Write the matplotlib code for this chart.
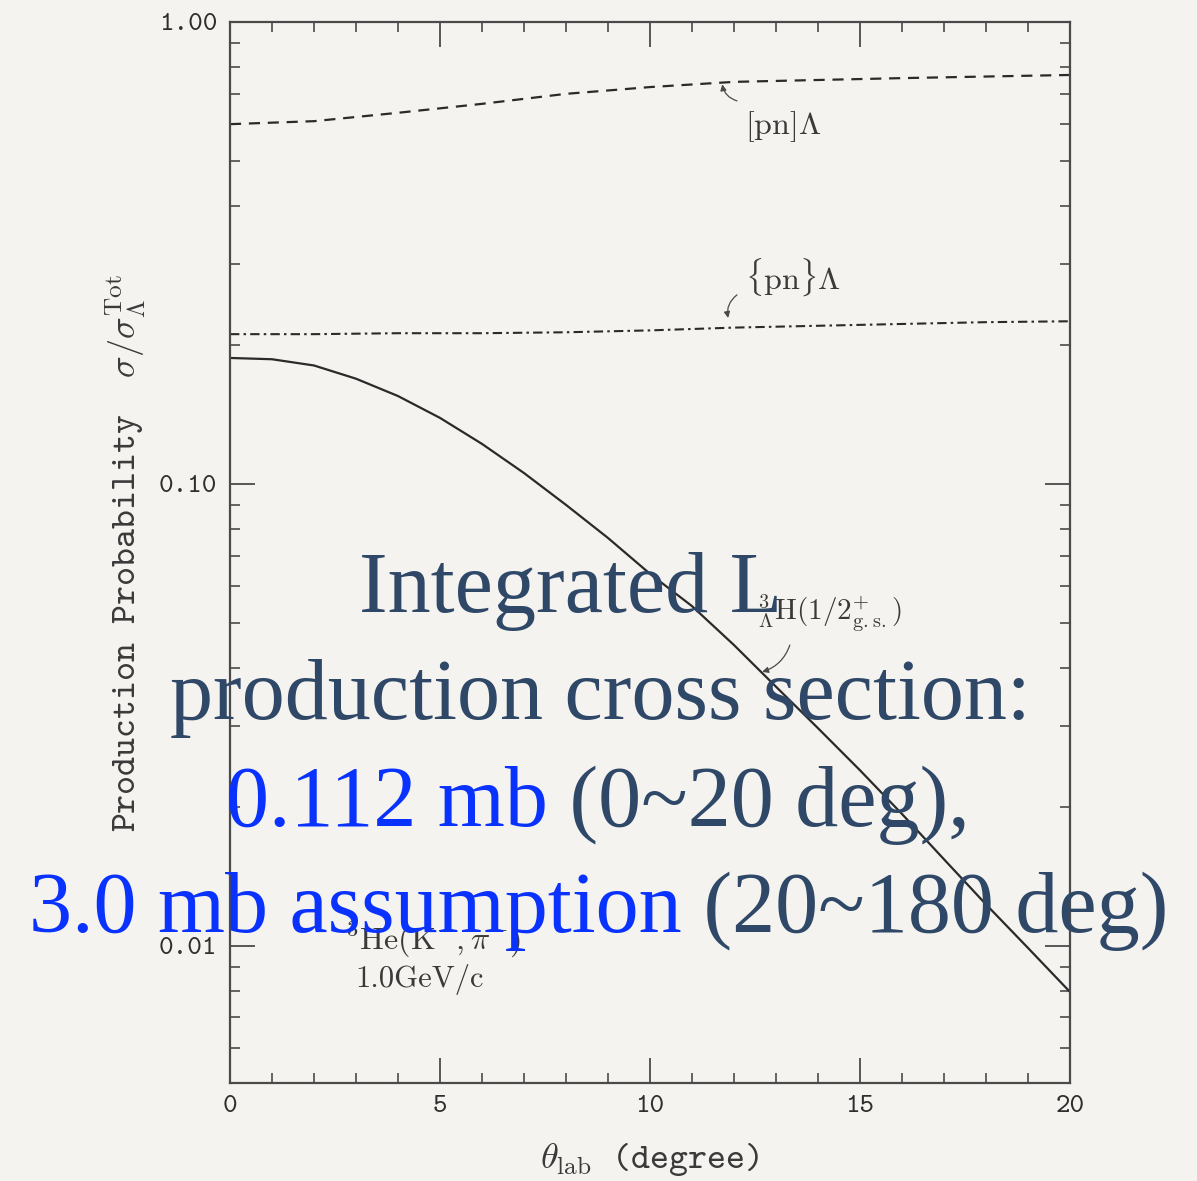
import numpy as np
import matplotlib
matplotlib.use("Agg")
import matplotlib.pyplot as plt
from matplotlib.ticker import MultipleLocator, LogLocator, NullFormatter

plt.rcParams['mathtext.fontset'] = 'cm'
plt.rcParams['axes.formatter.use_mathtext'] = True

# lab angle (degree)
theta = [0, 1, 2, 3, 4, 5, 6, 7, 8, 9, 10,
         11, 12, 13, 14, 15, 16, 17, 18, 19, 20]
# 3/Lambda H (1/2+ g.s.) production probability
hyp_gs = [0.1874, 0.1862, 0.1805, 0.1690, 0.1550, 0.1390, 0.1221, 0.1056,
          0.0901, 0.0764, 0.0639, 0.0544, 0.0448, 0.0364, 0.0296, 0.0240,
          0.0193, 0.0154, 0.0123, 0.0099, 0.00795]

theta_pn = [0, 2, 4, 6, 8, 10, 12, 14, 16, 18, 20]
# [pn]Lambda and {pn}Lambda continua
pn_bracket = [0.601, 0.610, 0.636, 0.665, 0.699, 0.723, 0.742, 0.749, 0.756, 0.762, 0.768]
pn_brace = [0.211, 0.211, 0.212, 0.212, 0.213, 0.215, 0.218, 0.220, 0.222, 0.224, 0.225]

xticks = [0, 5, 10, 15, 20]
xticklabels = ['0', '5', '10', '15', '20']
yticks = [0.01, 0.1, 1.0]
yticklabels = ['0.01', '0.10', '1.00']

bg = '#f5f3ef'
ink = '#2a2a2a'
grey = '#4a4a4a'

W, H = 1197, 1181
fig = plt.figure(figsize=(W / 100, H / 100), dpi=100, facecolor=bg)
ax = fig.add_axes([230 / W, 1 - 1083 / H, 840 / W, 1061 / H], facecolor=bg)

ax.plot(theta, hyp_gs, color=ink, lw=1.6)
ax.plot(theta_pn, pn_bracket, color=ink, lw=1.6, ls=(0, (5, 3.5)))
ax.plot(theta_pn, pn_brace, color=ink, lw=1.5, ls=(0, (4.5, 2, 1.2, 2)))

ax.set_yscale('log')
ax.set_xlim(0, 20)
ax.set_ylim(0.00505, 1.0)

ax.set_xticks(xticks)
ax.set_xticklabels(xticklabels, fontfamily='cmtt10', fontsize=20, color='#2e2e2e')
ax.xaxis.set_minor_locator(MultipleLocator(1))
ax.set_yticks(yticks)
ax.set_yticklabels(yticklabels, fontfamily='cmtt10', fontsize=20, color='#2e2e2e')
ax.yaxis.set_minor_locator(LogLocator(base=10, subs=np.arange(2, 10)))
ax.yaxis.set_minor_formatter(NullFormatter())

ax.tick_params(which='both', direction='in', top=True, right=True, color=grey)
ax.tick_params(which='major', length=18, width=1.3, pad=9)
ax.tick_params(which='minor', length=7, width=1.2)
for s in ax.spines.values():
    s.set_color(grey)
    s.set_linewidth(1.6)

# axis titles
fig.text(126 / W, 1 - 553 / H,
         r'Production Probability  $\sigma/\sigma^{\rm Tot}_{\Lambda}$',
         rotation=90, ha='center', va='center', fontsize=26,
         fontfamily='cmtt10', color='#3a3a3a')
fig.text(650 / W, 1 - 1160 / H, r'$\theta_{\rm lab}$ (degree)',
         ha='center', va='center', fontsize=26, fontfamily='cmtt10', color='#3a3a3a')

# curve labels
arrow = dict(arrowstyle='-|>', color=grey, lw=0.9, mutation_scale=9,
             shrinkA=0, shrinkB=0)
ax.text(12.26, 0.593, r'[pn]$\Lambda$', fontsize=23, fontfamily='cmr10',
        color='#3a3a3a', va='center', ha='left')
ax.annotate('', xy=(11.72, 0.733), xytext=(12.07, 0.675),
            arrowprops=dict(connectionstyle='arc3,rad=-0.3', **arrow))

ax.text(12.26, 0.281, r'$\{\mathrm{pn}\}\Lambda$', fontsize=23,
        color='#3a3a3a', va='center', ha='left')
ax.annotate('', xy=(11.86, 0.2287), xytext=(12.07, 0.2566),
            arrowprops=dict(connectionstyle='arc3,rad=0.3', **arrow))

ax.text(12.55, 0.0528, r'${}^{3}_{\Lambda}$H(1/2$^{+}_{\rm g.s.}$)', fontsize=21,
        fontfamily='cmr10', color='#3a3a3a', va='center', ha='left')
ax.annotate('', xy=(12.67, 0.0392), xytext=(13.33, 0.0448),
            arrowprops=dict(connectionstyle='arc3,rad=-0.25', **arrow))

ax.text(2.74, 0.0103, r'$^{3}\mathrm{He}(\mathrm{K}^{-},\pi^{-})$', fontsize=23,
        color='#3a3a3a', va='center', ha='left')
ax.text(2.98, 0.00844, '1.0GeV/c', fontsize=22,
        fontfamily='cmr10', color='#3a3a3a', va='center', ha='left')

# overlay note
dark = '#2f4868'
blue = '#0a32ff'
big = dict(fontsize=62, fontfamily='Liberation Serif', va='baseline', zorder=10)
fig.text(571 / W, 1 - 612 / H, 'Integrated L', ha='center', color=dark, **big)
fig.text(600 / W, 1 - 719 / H, 'production cross section:', ha='center', color=dark, **big)
fig.text(548 / W, 1 - 826 / H, '0.112 mb', ha='right', color=blue, **big)
fig.text(548 / W, 1 - 826 / H, ' (0~20 deg),', ha='left', color=dark, **big)
fig.text(682 / W, 1 - 932 / H, '3.0 mb assumption', ha='right', color=blue, **big)
fig.text(682 / W, 1 - 932 / H, ' (20~180 deg)', ha='left', color=dark, **big)

fig.savefig('out.png', dpi=100, facecolor=bg)
